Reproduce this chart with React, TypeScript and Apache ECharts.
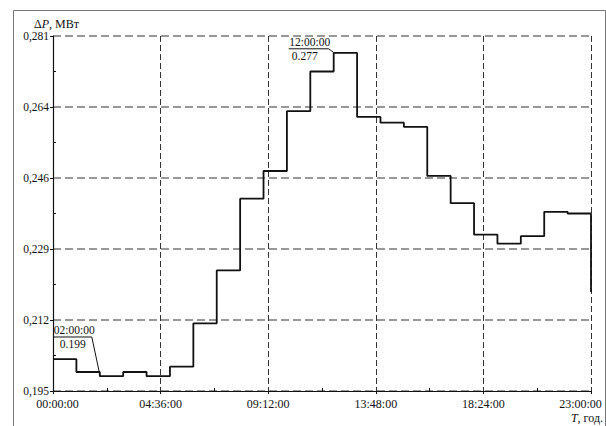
import React, { useEffect, useRef } from "react";
import * as echarts from "echarts";

// Hour at which each step begins
const stepHours = [0, 1, 2, 3, 4, 5, 6, 7, 8, 9, 10, 11, 12, 13, 14, 15, 16, 17, 18, 19, 20, 21, 22];
// ΔP, MW for each hourly step
const powerMW = [
  0.2027, 0.1996, 0.1986, 0.1996, 0.1986, 0.2009, 0.2114, 0.2242, 0.2416, 0.2483, 0.2628, 0.2724,
  0.2769, 0.2614, 0.2600, 0.2590, 0.2471, 0.2405, 0.2329, 0.2307, 0.2325, 0.2384, 0.2380,
];
const endHour = 23;
const endDropMW = 0.219;

const yTickLabels = ["0,195", "0,212", "0,229", "0,246", "0,264", "0,281"];
const yMin = 0.195;
const yStep = 0.0172;
const xTickLabels = ["00:00:00", "04:36:00", "09:12:00", "13:48:00", "18:24:00", "23:00:00"];
const xStepMin = 276;

// annotations: hour, value label, time label
const annHours = [2, 12];
const annValues = [0.199, 0.277];
const annTimeLabels = ["02:00:00", "12:00:00"];
const annValueLabels = ["0.199", "0.277"];

const norm = (v: number) => (v - yMin) / yStep;

export default function App() {
  const ref = useRef<HTMLDivElement>(null);
  useEffect(() => {
    if (!ref.current) return;
    const chart = echarts.init(ref.current, null, { renderer: "svg" });
    const font = "'Liberation Serif', 'Times New Roman', serif";
    const lineData: number[][] = stepHours.map((h, i) => [h * 60, norm(powerMW[i])]);
    lineData.push([endHour * 60, norm(endDropMW)]);

    const annData = annHours.map((h, i) => [h * 60, norm(annValues[i]), i]);
    // offsets relative to the annotated point (pixels)
    const annLayout = [
      { barL: -46, barR: -8, barY: -37.5, tx: -25.5, vx: -27 },
      { barL: -45, barR: -5, barY: -3.7, tx: -24, vx: -29 },
    ];

    const option: any = {
      animation: false,
      backgroundColor: "#ffffff",
      grid: { left: 53, top: 36, right: 14, bottom: 35, containLabel: false },
      xAxis: {
        type: "value",
        min: 0,
        max: endHour * 60,
        interval: xStepMin,
        name: "{i|T}, год.",
        nameLocation: "end",
        nameGap: 12,
        nameTextStyle: {
          fontFamily: font,
          fontSize: 12,
          color: "#111",
          align: "right",
          verticalAlign: "top",
          padding: [21, 0, 0, 0],
          rich: { i: { fontStyle: "italic", fontFamily: font, fontSize: 12, color: "#111" } },
        },
        axisLine: { show: true, lineStyle: { color: "#111", width: 1.2 } },
        axisTick: { show: true, length: 3, lineStyle: { color: "#111" } },
        minorTick: { show: true, splitNumber: 2, length: -3, lineStyle: { color: "#111" } },
        axisLabel: {
          fontFamily: font,
          fontSize: 12,
          color: "#111",
          margin: 7,
          formatter: (v: number) => {
            const idx = Math.round(v / xStepMin);
            const t = xTickLabels[idx] ?? "";
            if (idx === 0) return "{first|" + t + "}";
            if (idx === xTickLabels.length - 1) return "{last|" + t + "}";
            return t;
          },
          rich: {
            first: { fontFamily: font, fontSize: 12, color: "#111", padding: [0, 0, 0, 9] },
            last: { fontFamily: font, fontSize: 12, color: "#111", padding: [0, 21, 0, 0] },
          },
        },
        splitLine: { show: true, lineStyle: { color: "#333", type: [6, 3], width: 1 } },
      },
      yAxis: {
        type: "value",
        min: 0,
        max: yTickLabels.length - 1,
        interval: 1,
        name: "Δ{i|P}, МВт",
        nameLocation: "end",
        nameGap: 6,
        nameTextStyle: {
          fontFamily: font,
          fontSize: 12,
          color: "#111",
          padding: [0, 0, 0, 7],
          rich: { i: { fontStyle: "italic", fontFamily: font, fontSize: 12, color: "#111" } },
        },
        axisLine: { show: true, lineStyle: { color: "#111", width: 1.2 } },
        axisTick: { show: true, length: 3, lineStyle: { color: "#111" } },
        minorTick: { show: true, splitNumber: 2, length: -3, lineStyle: { color: "#111" } },
        axisLabel: {
          fontFamily: font,
          fontSize: 11.5,
          color: "#111",
          margin: 4,
          formatter: (v: number) => yTickLabels[Math.round(v)] ?? "",
        },
        splitLine: { show: true, lineStyle: { color: "#777", type: [8, 4], width: 1.5 } },
      },
      graphic: [
        {
          type: "rect",
          shape: { x: 13.5, y: 10.5, width: 592, height: 430 },
          style: { fill: "none", stroke: "#777", lineWidth: 1 },
          silent: true,
        },
      ],
      series: [
        {
          type: "line",
          step: "end",
          data: lineData,
          symbol: "none",
          lineStyle: { color: "#111", width: 1.8 },
          z: 3,
        },
        {
          type: "custom",
          data: annData,
          z: 4,
          renderItem: (params: any, api: any) => {
            const i = api.value(2);
            const p = api.coord([api.value(0), api.value(1)]);
            const L = annLayout[i];
            const by = p[1] + L.barY;
            return {
              type: "group",
              children: [
                {
                  type: "line",
                  shape: { x1: p[0] + L.barL, y1: by, x2: p[0] + L.barR, y2: by },
                  style: { stroke: "#111", lineWidth: 1 },
                },
                {
                  type: "line",
                  shape: { x1: p[0] + L.barR, y1: by, x2: p[0], y2: p[1] },
                  style: { stroke: "#111", lineWidth: 1 },
                },
                {
                  type: "text",
                  x: p[0] + L.tx,
                  y: by - 0.5,
                  style: {
                    text: annTimeLabels[i],
                    fontFamily: font,
                    fontSize: 11.5,
                    fill: "#111",
                    align: "center",
                    verticalAlign: "bottom",
                  },
                },
                {
                  type: "text",
                  x: p[0] + L.vx,
                  y: by + 1.5,
                  style: {
                    text: annValueLabels[i],
                    fontFamily: font,
                    fontSize: 11.5,
                    fill: "#111",
                    align: "center",
                    verticalAlign: "top",
                  },
                },
              ],
            };
          },
        },
      ],
    };
    chart.setOption(option);
    return () => chart.dispose();
  }, []);
  return (
    <div
      ref={ref}
      style={{ position: "fixed", left: 0, top: 0, width: 606, height: 426, background: "#fff" }}
    />
  );
}
